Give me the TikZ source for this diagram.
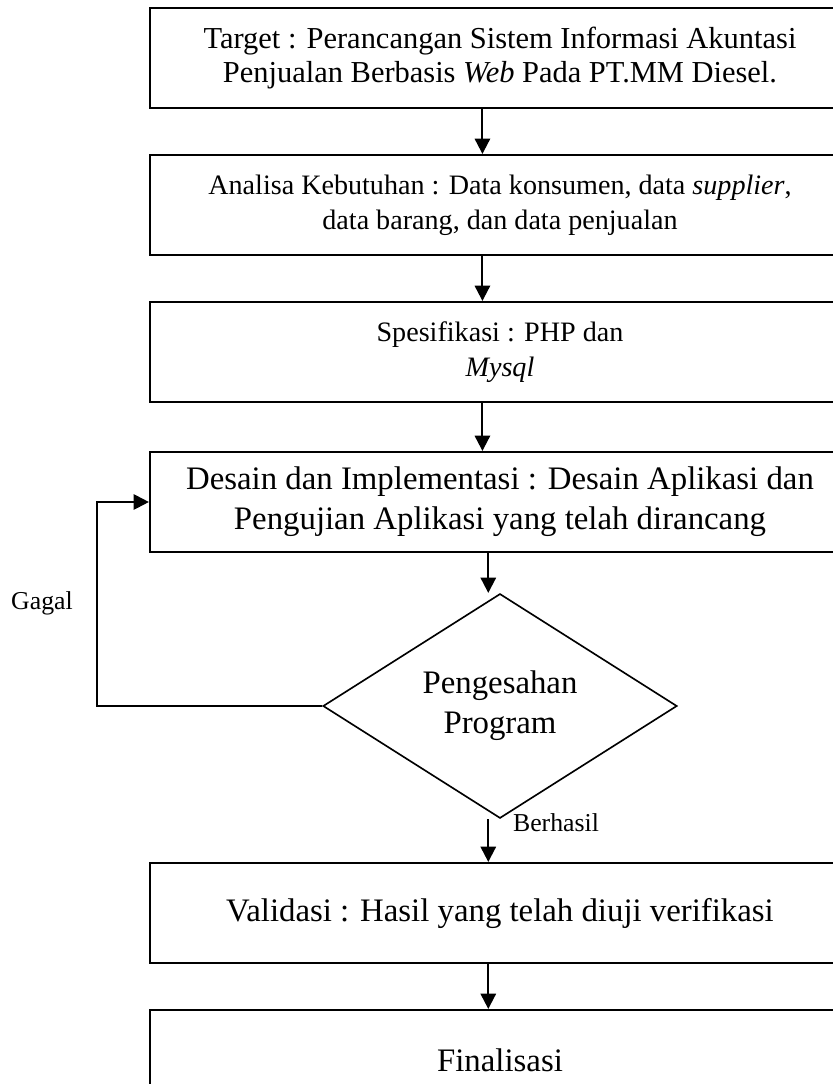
\documentclass[tikz,border=0pt]{standalone}
\usepackage{fontspec}
\setmainfont{Liberation Serif}
\usetikzlibrary{shapes.geometric,arrows.meta,positioning,calc}

\begin{document}
\begin{tikzpicture}[
    x=0.015cm, y=-0.015cm,
    box/.style={draw, rectangle, line width=0.9pt, minimum width=10.5cm, minimum height=1.5cm, align=center},
    check/.style={draw, diamond, line width=0.7pt, minimum width=5.31cm, minimum height=3cm, inner sep=0pt, align=center},
    arrow/.style={-{Triangle[length=6.5pt, width=6.5pt]}, line width=0.9pt},
    big/.style={font=\fontsize{14}{17}\selectfont},
    mid/.style={font=\fontsize{13}{14.5}\selectfont},
    small/.style={font=\fontsize{12}{15}\selectfont},
    note/.style={font=\fontsize{11}{13}\selectfont}
]
\useasboundingbox (0,0) rectangle (833,1084);
\clip (0,0) rectangle (833,1084);

% Stages
\node[box, mid] (target) at (500,58) {
    Target : Perancangan Sistem Informasi Akuntasi\\
    Penjualan Berbasis \textit{Web} Pada PT.MM Diesel.
};
\node[box, small] (analisa) at (500,205) {
    Analisa Kebutuhan : Data konsumen, data \textit{supplier},\\
    data barang, dan data penjualan
};
\node[box, small] (spek) at (500,352) {
    Spesifikasi : PHP dan\\
    \textit{Mysql}
};
\node[box, big] (desain) at (500,502) {
    Desain dan Implementasi : Desain Aplikasi dan\\
    Pengujian Aplikasi yang telah dirancang
};

% Decision
\node[check, big] (sah) at (500,706) {Pengesahan\\ Program};

\node[box, big] (validasi) at (500,913) {Validasi : Hasil yang telah diuji verifikasi};
\node[box, big] (final) at (500,1060) {Finalisasi};

% Arrows
\draw[arrow] ([xshift=-7.5pt]target.south) -- ([xshift=-7.5pt]analisa.north);
\draw[arrow] ([xshift=-7.5pt]analisa.south) -- ([xshift=-7.5pt]spek.north);
\draw[arrow] ([xshift=-7.5pt]spek.south) -- ([xshift=-7.5pt]desain.north);
\draw[arrow] ([xshift=-5pt]desain.south) -- ([xshift=-5pt]sah.north);
\draw[arrow] ([xshift=-5pt]sah.south) -- ([xshift=-5pt]validasi.north);
\draw[arrow] ([xshift=-5pt]validasi.south) -- ([xshift=-5pt]final.north);

% Loop back
\coordinate (turn) at (97,706);
\draw[arrow] (sah.west) -- (turn) |- (desain.west);
\node[note] (gagal) at (42,603) {Gagal};
\node[note] (berhasil) at (556,823) {Berhasil};

\end{tikzpicture}
\end{document}
